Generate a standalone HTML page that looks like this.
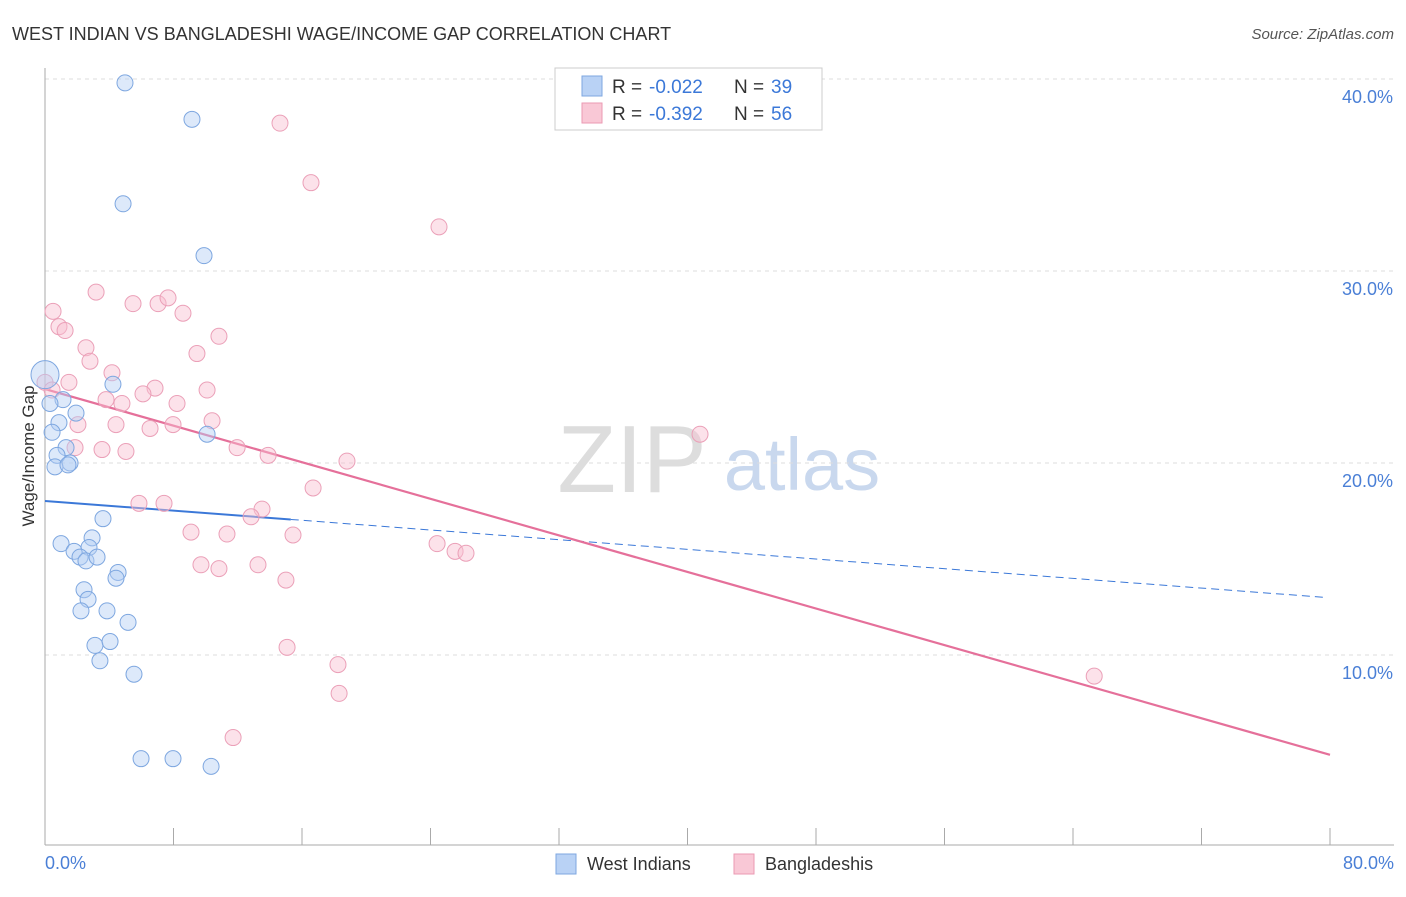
<!DOCTYPE html>
<html><head><meta charset="utf-8"><style>
body{margin:0;background:#fff;font-family:"Liberation Sans",sans-serif;}
svg text{font-family:"Liberation Sans",sans-serif;}
</style></head><body>
<svg id="chart" width="1406" height="892" viewBox="0 0 1406 892">
<text x="12" y="40" font-size="18" fill="#333">WEST INDIAN VS BANGLADESHI WAGE/INCOME GAP CORRELATION CHART</text>
<text x="1394" y="39" font-size="15" fill="#555" font-style="italic" text-anchor="end">Source: ZipAtlas.com</text>
<g>
<text x="632" y="492" font-size="96" fill="#ddd" font-family="Liberation Serif" text-anchor="middle">ZIP</text>
<text x="802" y="490" font-size="74" fill="#c9d8ee" text-anchor="middle">atlas</text>
</g>
<g id="grid"></g><g id="axes"></g><g id="trends"></g><g id="points"></g>
<text transform="translate(34,456) rotate(-90)" font-size="17" fill="#333" text-anchor="middle">Wage/Income Gap</text>
<text x="45" y="869" font-size="18" fill="#4a7fd6">0.0%</text>
<text x="1394" y="869" font-size="18" fill="#4a7fd6" text-anchor="end">80.0%</text>
<g>
<rect x="555" y="68" width="267" height="62" fill="#fff" stroke="#ccc"/>
<rect x="582" y="76" width="20" height="20" fill="#b9d2f5" stroke="#7ea7e0"/>
<rect x="582" y="103" width="20" height="20" fill="#f9c8d6" stroke="#eb9ab3"/>
<text x="612" y="93" font-size="19" fill="#333">R = </text>
<text x="649" y="93" font-size="19" fill="#3b78d8">-0.022</text>
<text x="734" y="93" font-size="19" fill="#333">N = </text>
<text x="771" y="93" font-size="19" fill="#3b78d8">39</text>
<text x="612" y="120" font-size="19" fill="#333">R = </text>
<text x="649" y="120" font-size="19" fill="#3b78d8">-0.392</text>
<text x="734" y="120" font-size="19" fill="#333">N = </text>
<text x="771" y="120" font-size="19" fill="#3b78d8">56</text>
</g>
<g>
<rect x="556" y="854" width="20" height="20" fill="#b9d2f5" stroke="#7ea7e0"/>
<text x="587" y="870" font-size="18" fill="#333">West Indians</text>
<rect x="734" y="854" width="20" height="20" fill="#f9c8d6" stroke="#eb9ab3"/>
<text x="765" y="870" font-size="18" fill="#333">Bangladeshis</text>
</g>
</svg>
<script>
const yTicks=[10,20,30,40];
const xTicks=[0,8,16,24,32,40,48,56,64,72,80];
const blueX=[4.98,9.15,4.86,9.9,0,4.23,1.12,0.31,1.93,0.87,0.44,10.09,1.31,0.75,1.56,0.62,1.43,3.61,1.0,2.93,1.81,2.74,2.18,2.55,3.24,4.55,4.42,2.43,2.68,2.24,3.86,5.17,3.11,4.05,3.42,5.54,5.98,7.97,10.34];
const blueY=[39.8,37.9,33.5,30.8,24.6,24.1,23.3,23.1,22.6,22.1,21.6,21.5,20.8,20.4,20.0,19.8,19.9,17.1,15.8,16.1,15.4,15.6,15.1,14.9,15.1,14.3,14.0,13.4,12.9,12.3,12.3,11.7,10.5,10.7,9.7,9.0,4.6,4.6,4.2];
const pinkX=[0.5,3.18,5.48,7.04,7.66,8.59,0.87,1.25,2.55,9.46,10.83,2.8,4.17,0,0.44,1.49,6.85,6.1,10.09,3.8,4.79,8.22,2.05,4.42,6.54,7.97,10.4,1.87,3.55,5.04,11.96,13.89,18.8,16.69,5.85,7.41,13.51,12.83,9.09,11.33,15.44,9.71,10.83,13.26,15.0,24.41,25.53,26.21,15.07,18.24,18.31,11.71,14.63,16.56,24.53,40.78,65.32];
const pinkY=[27.9,28.9,28.3,28.3,28.6,27.8,27.1,26.9,26.0,25.7,26.6,25.3,24.7,24.2,23.8,24.2,23.9,23.6,23.8,23.3,23.1,23.1,22.0,22.0,21.8,22.0,22.2,20.8,20.7,20.6,20.8,20.4,20.1,18.7,17.9,17.9,17.6,17.2,16.4,16.3,16.25,14.7,14.5,14.7,13.9,15.8,15.4,15.3,10.4,9.5,8.0,5.7,37.7,34.6,32.3,21.5,8.9];
const blueTrend=[18.02,13.0];
const pinkTrend=[23.85,4.8];
const X0=45,X1=1330,Y0=847,YPX=19.2;
const xs=v=>X0+v*(X1-X0)/80, ys=v=>Y0-v*YPX;
const NS='http://www.w3.org/2000/svg';
function mk(parent,tag,attrs){const e=document.createElementNS(NS,tag);for(const k in attrs)e.setAttribute(k,attrs[k]);document.getElementById(parent).appendChild(e);return e;}
yTicks.forEach(t=>{
 const l=mk('grid','line',{x1:45,x2:1394,y1:ys(t),y2:ys(t),stroke:'#ddd','stroke-dasharray':'4,4'});
 
 
 const tx=mk('grid','text',{x:1393,y:ys(t)+24,'font-size':18,fill:'#4a7fd6','text-anchor':'end'});
 tx.textContent=t.toFixed(1)+'%';
 
 
});
const ax=mk('axes','line',{x1:45,x2:1394,y1:845,y2:845,stroke:'#aaa'});


const ay=mk('axes','line',{x1:45,x2:45,y1:68,y2:845,stroke:'#aaa'});


xTicks.forEach(t=>{
 const l=mk('axes','line',{x1:xs(t),x2:xs(t),y1:828,y2:845,stroke:'#aaa'});
 
 
});
const bEnd=15.3;
const b1=mk('trends','line',{x1:xs(0),y1:ys(blueTrend[0]),x2:xs(bEnd),y2:ys(blueTrend[0]+(blueTrend[1]-blueTrend[0])*bEnd/80),stroke:'#3b78d8','stroke-width':2});


const b2=mk('trends','line',{x1:xs(bEnd),y1:ys(blueTrend[0]+(blueTrend[1]-blueTrend[0])*bEnd/80),x2:xs(79.7),y2:ys(blueTrend[1]),stroke:'#3b78d8','stroke-width':1,'stroke-dasharray':'8,5'});


const p1=mk('trends','line',{x1:xs(0),y1:ys(pinkTrend[0]),x2:xs(80),y2:ys(pinkTrend[1]),stroke:'#e5709a','stroke-width':2.2});


pinkX.forEach((x,i)=>{
 const c=mk('points','circle',{cx:xs(x),cy:ys(pinkY[i]),r:8,fill:'rgba(248,190,208,0.45)',stroke:'#eba0b8','stroke-width':1});
 
 
});
blueX.forEach((x,i)=>{
 const c=mk('points','circle',{cx:xs(x),cy:ys(blueY[i]),r:(i===4?14:8),fill:'rgba(180,206,244,0.45)',stroke:'#7ea7e0','stroke-width':1});
 
 
});
</script>
</body></html>
